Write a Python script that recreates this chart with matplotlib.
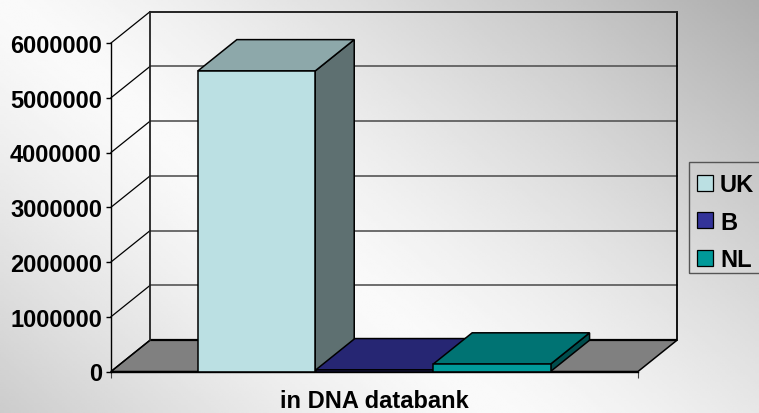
#!/usr/bin/env python

import numpy as np
import matplotlib
matplotlib.use('Agg')
import matplotlib.pyplot as plt
from matplotlib.patches import Polygon, Patch, Rectangle

categories = ['UK', 'B', 'NL']
values = [5490000, 30000, 135000]
front_colors = ['#bbe0e3', '#333399', '#009999']
top_colors = ['#8da8aa', '#262673', '#007373']
side_colors = ['#5e7071', '#1a1a4d', '#004d4d']
bar_starts = [0.74, 1.745, 2.745]
yticks = [0, 1000000, 2000000, 3000000, 4000000, 5000000, 6000000]
xlabel = 'in DNA databank'

W, H = 759, 414
LEFT, RIGHT, BOTTOM, TOP = 111, 638, 372.5, 44   # front plane, pixels
XMAX = 4.49
YMAX = 6000000
DX = 39 * XMAX / (RIGHT - LEFT)      # depth offset in data units
DY = 31.3 * YMAX / (BOTTOM - TOP)

plt.rcParams['font.family'] = ['Liberation Sans', 'DejaVu Sans']
plt.rcParams['font.weight'] = 'bold'
plt.rcParams['font.size'] = 17

fig = plt.figure(figsize=(W / 100, H / 100), dpi=100)

# page background: a light band from the top left down to the bottom middle,
# darker towards the other two corners
bg = fig.add_axes([0, 0, 1, 1], zorder=0)
u, v = np.meshgrid(np.linspace(0, 1, 300), np.linspace(0, 1, 180))
d = u * 1.52 - v
shade = np.where(d > 0, 0.174 * np.abs(d) ** 1.3, 0.18 * np.abs(d) ** 1.3)
bg.imshow(0.98 - shade, cmap='gray', vmin=0, vmax=1, aspect='auto',
          extent=(0, 1, 1, 0))
bg.axis('off')

ax = fig.add_axes([LEFT / W, 1 - BOTTOM / H, (RIGHT - LEFT) / W, (BOTTOM - TOP) / H],
                  zorder=1)
ax.patch.set_alpha(0)
ax.set_xlim(0, XMAX)
ax.set_ylim(0, YMAX)


def poly(pts, fc, ec='black', lw=1.1, z=3):
  ax.add_patch(Polygon(pts, closed=True, facecolor=fc, edgecolor=ec, linewidth=lw,
                       zorder=z, clip_on=False, joinstyle='miter'))


# floor
poly([(0, 0), (XMAX, 0), (XMAX + DX, DY), (DX, DY)], '#808080', z=1)
ax.plot([DX, XMAX + DX], [DY, DY], color='black', lw=1.6, zorder=1.5, clip_on=False,
        solid_capstyle='butt')

# back walls and grid
for t in yticks[1:]:
  ax.plot([DX, XMAX + DX], [t + DY, t + DY], color='#555555', lw=1.2,
          zorder=2, clip_on=False)
  ax.plot([0, DX], [t, t + DY], color='black', lw=0.9, zorder=2, clip_on=False)
ax.plot([0, DX], [0, DY], color='black', lw=0.9, zorder=2, clip_on=False)
ax.plot([DX, DX], [DY, YMAX + DY], color='#222222', lw=1.3, zorder=2, clip_on=False)
ax.plot([XMAX + DX, XMAX + DX], [DY, YMAX + DY], color='black', lw=1.3, zorder=2,
        clip_on=False)
ax.plot([DX, XMAX + DX], [YMAX + DY, YMAX + DY], color='#222222', lw=1.3, zorder=2,
        clip_on=False)

# bars
for name, val, x0, fc, tc, sc in zip(categories, values, bar_starts, front_colors,
                                     top_colors, side_colors):
  x1 = x0 + 1.0
  poly([(x1, 0), (x1 + DX, DY), (x1 + DX, val + DY), (x1, val)], sc)
  poly([(x0, val), (x1, val), (x1 + DX, val + DY), (x0 + DX, val + DY)], tc)
  poly([(x0, 0), (x1, 0), (x1, val), (x0, val)], fc)

# axes
for s in ['top', 'right']:
  ax.spines[s].set_visible(False)
for s in ['left', 'bottom']:
  ax.spines[s].set_linewidth(1.0)
  ax.spines[s].set_zorder(4)
ax.set_yticks(yticks)
ax.set_yticklabels([str(t) for t in yticks])
ax.tick_params(axis='y', length=3.5, width=1, pad=3)
ax.set_xticks([0, XMAX])
ax.set_xticklabels(['', ''])
ax.tick_params(axis='x', length=4, width=0.8, color='#444444')
ax.set_xlabel(xlabel, fontweight='bold')
ax.xaxis.set_label_coords(0.499, -0.052)
ax.xaxis.label.set_va('top')

# legend, the frame is drawn by hand since it runs off the right edge
fig.add_artist(Rectangle((689 / W, 1 - 274 / H), 75 / W, 111 / H, transform=fig.transFigure,
                         facecolor='none', edgecolor='#555555', linewidth=1.0))
handles = [Patch(facecolor=c, edgecolor='black', linewidth=0.9) for c in front_colors]
leg = fig.legend(handles, categories, loc='upper left',
                 bbox_to_anchor=(688 / W, 1 - 165 / H), bbox_transform=fig.transFigure,
                 frameon=False, borderaxespad=0, borderpad=0.38,
                 handlelength=0.68, handleheight=0.68,
                 handletextpad=0.3, labelspacing=0.62)

fig.savefig('out.png', dpi=100)
